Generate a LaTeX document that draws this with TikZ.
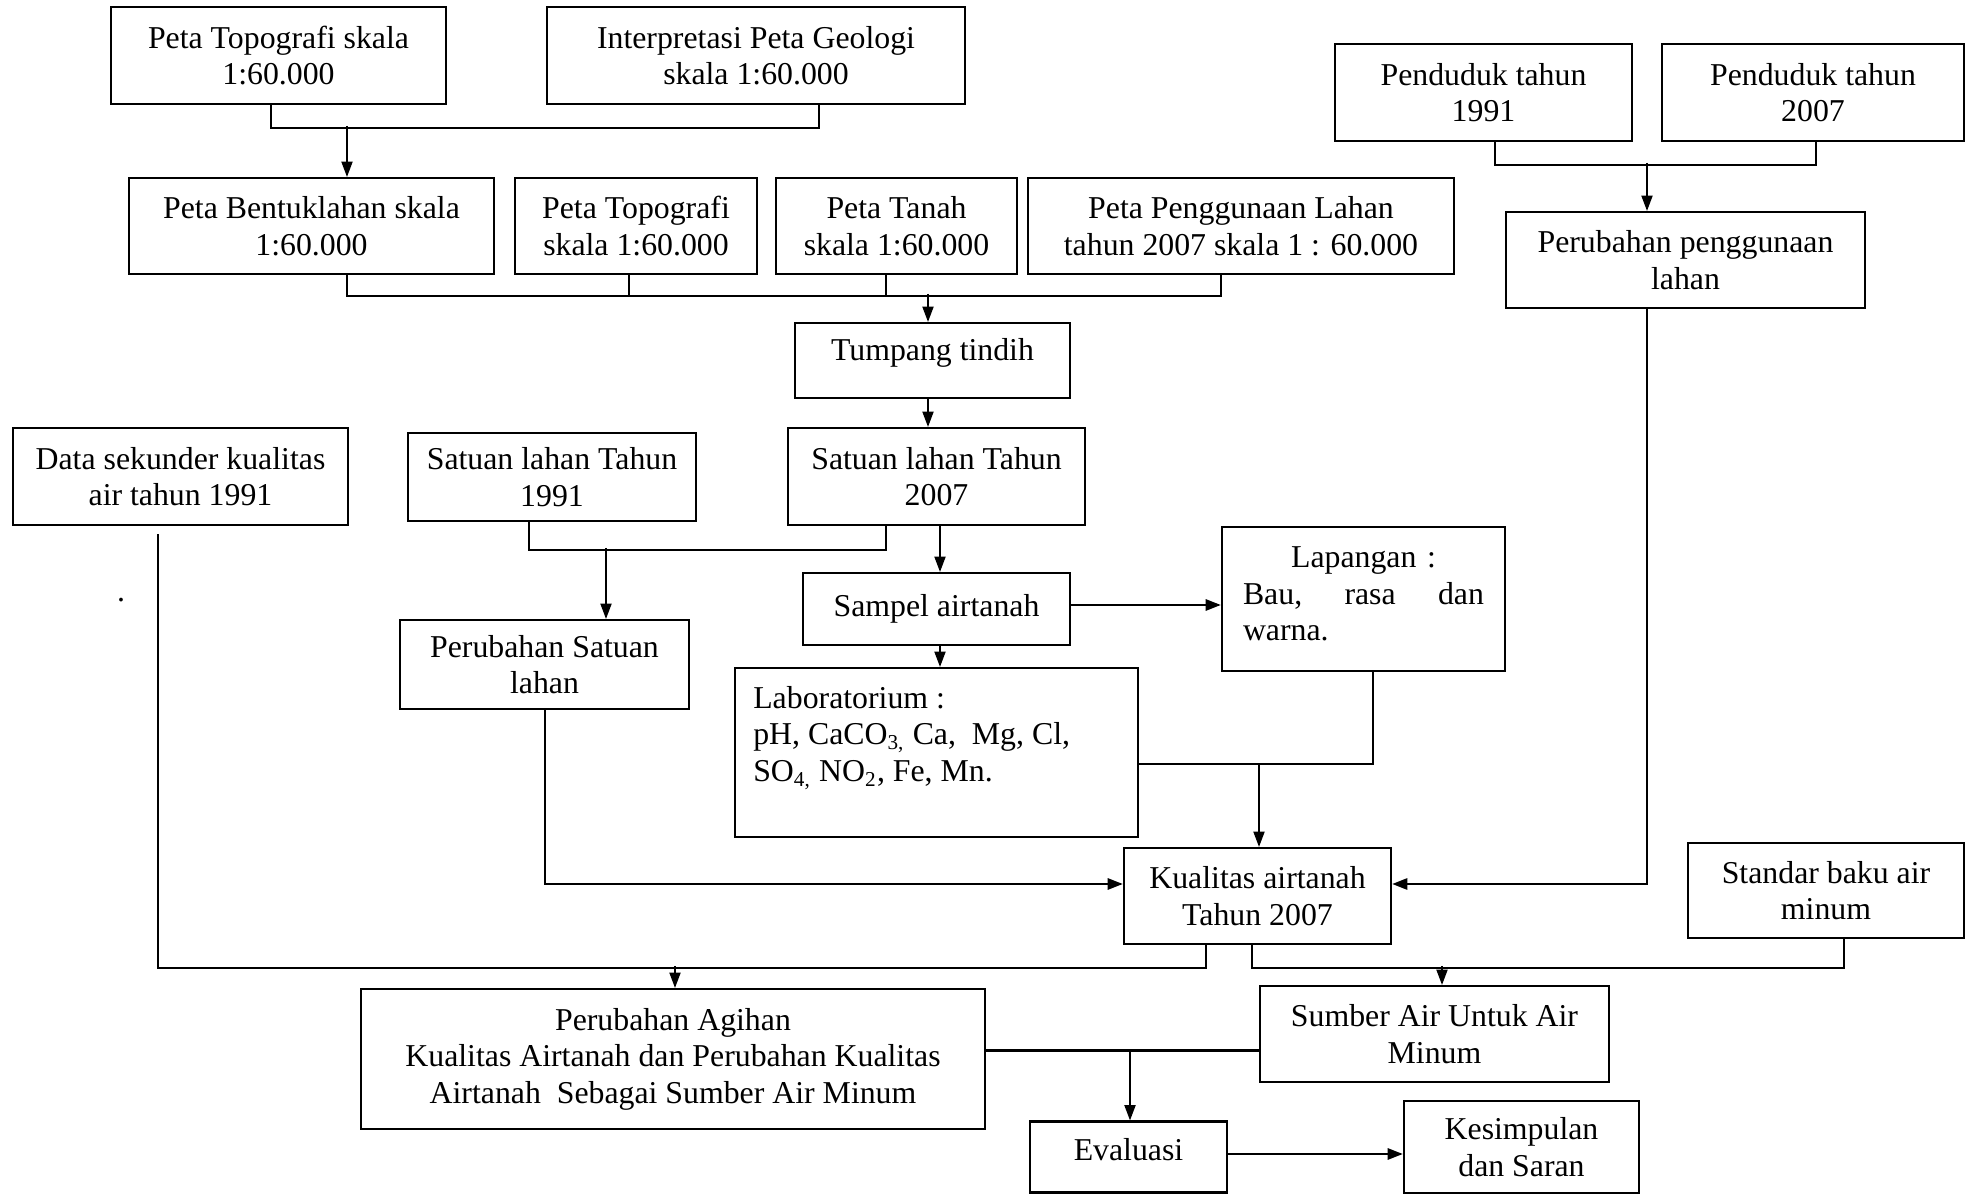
\documentclass[tikz,border=0pt]{standalone}
\usepackage{fontspec}
\setmainfont{Liberation Serif}
\usetikzlibrary{positioning, calc, arrows.meta}
\setlength{\parindent}{0pt}
\def\u{0.3773pt}
\tikzset{box/.style={draw, line width=0.8pt, align=center, inner sep=2pt}}
\tikzset{boxsize/.style 2 args={minimum width=#1*\u, minimum height=#2*\u}}
\tikzset{link/.style={line width=0.6pt}}
\tikzset{arrow/.style={link, -{Triangle[length=5.8pt, width=4.2pt]}}}
\tikzset{thickarrow/.style={arrow, line width=1pt}}

\begin{document}
\begin{tikzpicture}[x=\u, y=-\u, font=\fontsize{12}{13.8}\selectfont]
      \useasboundingbox (0,0) rectangle (1966,1195);

      % peta dasar
      \node[box, boxsize={335}{97}] (topo1) at (278.5,55.5) {Peta Topografi skala\\1:60.000};
      \node[box, boxsize={418}{97}] (geo) at (756,55.5) {Interpretasi Peta Geologi\\skala 1:60.000};
      \node[box, boxsize={297}{97}] (pend1) at (1483.5,92.5) {Penduduk tahun\\1991};
      \node[box, boxsize={302}{97}] (pend2) at (1813,92.5) {Penduduk tahun\\2007};

      \node[box, boxsize={365}{96}] (bentuk) at (311.5,226) {Peta Bentuklahan skala\\1:60.000};
      \node[box, boxsize={242}{96}] (topo2) at (636,226) {Peta Topografi\\skala 1:60.000};
      \node[box, boxsize={241}{96}] (tanah) at (896.5,226) {Peta Tanah\\skala 1:60.000};
      \node[box, boxsize={426}{96}] (guna) at (1241,226) {Peta Penggunaan Lahan\\tahun 2007 skala 1 : 60.000};
      \node[box, boxsize={359}{96}] (ubahguna) at (1685.5,260) {Perubahan penggunaan\\lahan};
      \node[box, boxsize={275}{75}, text depth=8pt] (tumpang) at (932.5,360.5) {Tumpang tindih};

      % satuan lahan
      \node[box, boxsize={335}{97}] (datasek) at (180.5,476.5) {Data sekunder kualitas\\air tahun 1991};
      \node[box, boxsize={288}{88}] (sat91) at (552,477) {Satuan lahan Tahun\\1991};
      \node[box, boxsize={297}{97}] (sat07) at (936.5,476.5) {Satuan lahan Tahun\\2007};
      \node[box, boxsize={267}{72}] (sampel) at (936.5,609) {Sampel airtanah};
      \node[box, boxsize={283}{144}, text width=241*\u, align=left] (lapangan) at (1363.5,599)
        {\hfill Lapangan :\hfill\mbox{}\\ Bau,\hfill rasa\hfill dan\\ warna.\\[-10pt]\mbox{}};
      \node[box, boxsize={289}{89}] (ubahsat) at (544.5,664.5) {Perubahan Satuan\\lahan};
      \node[box, boxsize={403}{169}] (lab) at (936.5,752.5) {};
      \node[anchor=north west, align=left] (labtxt) at ($(lab.north west)+(10,10)$)
        {Laboratorium :\\pH, CaCO\textsubscript{3,} Ca,\ \ Mg, Cl,\\SO\textsubscript{4,} NO\textsubscript{2}, Fe, Mn.};
      \node (titik) at (121,600) {.};

      % hasil
      \node[box, boxsize={267}{96}] (kualitas) at (1257.5,896) {Kualitas airtanah\\Tahun 2007};
      \node[box, boxsize={276}{95}] (standar) at (1826,890.5) {Standar baku air\\minum};
      \node[box, boxsize={624}{140}] (agihan) at (673,1059)
        {Perubahan Agihan\\Kualitas Airtanah dan Perubahan Kualitas\\Airtanah\ \ Sebagai Sumber Air Minum};
      \node[box, boxsize={349}{96}] (sumber) at (1434.5,1034) {Sumber Air Untuk Air\\Minum};
      \node[box, boxsize={197}{71}, text depth=6pt] (evaluasi) at (1128.5,1157) {Evaluasi};
      \node[box, boxsize={235}{92}] (kesimpulan) at (1521.5,1147) {Kesimpulan\\dan Saran};

      % penghubung
      \coordinate (j1) at ($(bentuk.north)+(35.5,-51)$);
      \draw[link] ($(topo1.south)+(-7.5,0)$) |- ($(geo.south)+(63,23)$) -- ($(geo.south)+(63,0)$);
      \draw[arrow] (j1) -- (j1 |- bentuk.north);

      \coordinate (j2) at ($(tumpang.north)+(-4.5,-28)$);
      \draw[link] ($(bentuk.south)+(35.5,0)$) |- ($(guna.south)+(-20,21)$) -- ($(guna.south)+(-20,0)$);
      \draw[link] ($(topo2.south)+(-7,0)$) -- ++(0,21);
      \draw[link] ($(tanah.south)+(-10.5,0)$) -- ++(0,21);
      \draw[arrow] (j2) -- (j2 |- tumpang.north);
      \draw[arrow] ($(tumpang.south)+(-4.5,0)$) -- ($(sat07.north)+(-8.5,0)$);

      \coordinate (j3) at ($(ubahguna.north)+(-38.5,-48)$);
      \draw[link] ($(pend1.south)+(11.5,0)$) |- ($(pend2.south)+(3,23)$) -- ($(pend2.south)+(3,0)$);
      \draw[arrow] (j3) -- (j3 |- ubahguna.north);

      \coordinate (j4) at ($(ubahsat.north)+(61.5,-71)$);
      \draw[link] ($(sat91.south)+(-23,0)$) |- ($(sat07.south)+(-50.5,24)$) -- ($(sat07.south)+(-50.5,0)$);
      \draw[arrow] (j4) -- (j4 |- ubahsat.north);
      \draw[arrow] ($(sat07.south)+(3.5,0)$) -- ($(sampel.north)+(3.5,0)$);
      \draw[arrow] ($(sampel.south)+(3.5,0)$) -- ($(lab.north)+(3.5,0)$);
      \draw[thickarrow] ($(sampel.east)+(0,-4)$) -- ($(lapangan.west)+(0,6)$);

      \coordinate (j5) at ($(kualitas.north)+(1.5,-83)$);
      \draw[link] ($(lapangan.south)+(9.5,0)$) |- (lab.east |- j5);
      \draw[arrow] (j5) -- (j5 |- kualitas.north);
      \draw[thickarrow] ($(ubahsat.south)+(0.5,0)$) |- ($(kualitas.west)+(0,-12)$);
      \draw[thickarrow] ($(ubahguna.south)+(-38.5,0)$) |- ($(kualitas.east)+(0,-12)$);

      \coordinate (j6) at ($(agihan.north)+(2,-22)$);
      \draw[link] ($(datasek.south)+(-22.5,8)$) |- ($(kualitas.south)+(-51.5,23)$) -- ($(kualitas.south)+(-51.5,0)$);
      \draw[arrow] (j6) -- (j6 |- agihan.north);

      \coordinate (j7) at ($(sumber.north)+(7.5,-19)$);
      \draw[link] ($(kualitas.south)+(-5.5,0)$) |- ($(standar.south)+(18,29)$) -- ($(standar.south)+(18,0)$);
      \draw[arrow] (j7) -- (j7 |- sumber.north);

      \coordinate (j8) at ($(evaluasi.north)+(1.5,-70)$);
      \draw[link, line width=1pt] (agihan.east |- j8) -- (sumber.west |- j8);
      \draw[arrow] (j8) -- (j8 |- evaluasi.north);
      \draw[thickarrow] ($(evaluasi.east)+(0,-3)$) -- ($(evaluasi.east -| kesimpulan.west)+(0,-3)$);

    \end{tikzpicture}
\end{document}
